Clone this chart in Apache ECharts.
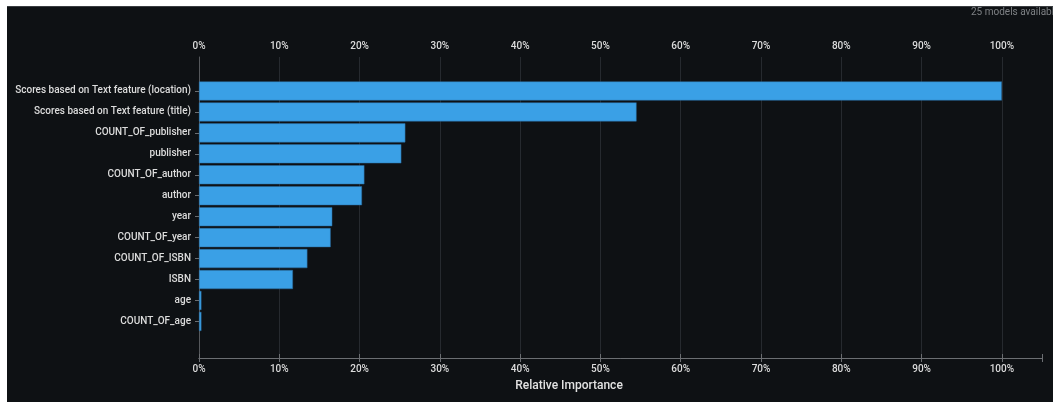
<!DOCTYPE html>
<html>
<head>
<meta charset="utf-8">
<style>
  html, body { margin: 0; padding: 0; background: #ffffff; }
  #chart { width: 1053px; height: 402px; }
</style>
<script src="https://cdn.jsdelivr.net/npm/echarts@6/dist/echarts.min.js"></script>
</head>
<body>
<div id="chart"></div>
<script>
// Feature names, top to bottom
const features = [
  'Scores based on Text feature (location)',
  'Scores based on Text feature (title)',
  'COUNT_OF_publisher',
  'publisher',
  'COUNT_OF_author',
  'author',
  'year',
  'COUNT_OF_year',
  'COUNT_OF_ISBN',
  'ISBN',
  'age',
  'COUNT_OF_age'
];
// Relative importance, percent
const importance = [100, 54.5, 25.7, 25.2, 20.6, 20.3, 16.6, 16.4, 13.5, 11.7, 0.3, 0.3];
// Percent tick labels on the importance axis
const tickValues = [0, 10, 20, 30, 40, 50, 60, 70, 80, 90, 100];
const axisTitle = 'Relative Importance';
const modelsNote = '25 models available';

const chart = echarts.init(document.getElementById('chart'), null, { renderer: 'canvas' });

const labelColor = '#dcdcdc';
const axisLineColor = '#6b6e72';
const gridColor = '#262a2f';
const AX_MAX = 105;

const pctLabel = v => (tickValues.indexOf(v) >= 0 ? v + '%' : '');

const pctAxisLabel = {
  color: labelColor, fontSize: 10, fontWeight: 500, fontFamily: 'Roboto', margin: 6, formatter: pctLabel
};

chart.setOption({
  backgroundColor: '#0e1114',
  animation: false,
  grid: [
    // frame: both percent axes, gridlines, vertical axis line
    { left: 199, right: 11, top: 57, bottom: 44 },
    // bars
    { left: 199, right: 11, top: 80.5, height: 251.4 }
  ],
  xAxis: [
    {
      gridIndex: 0, type: 'value', position: 'top', min: 0, max: AX_MAX, interval: 10,
      axisLine: { show: true, lineStyle: { color: axisLineColor } },
      axisTick: { show: true, length: 4, lineStyle: { color: axisLineColor } },
      axisLabel: pctAxisLabel,
      splitLine: { show: true, showMaxLine: false, lineStyle: { color: gridColor } }
    },
    {
      gridIndex: 0, type: 'value', position: 'bottom', min: 0, max: AX_MAX, interval: 10,
      axisLine: { show: true, lineStyle: { color: axisLineColor } },
      axisTick: { show: true, length: 4, lineStyle: { color: axisLineColor } },
      axisLabel: pctAxisLabel,
      splitLine: { show: false }
    },
    {
      gridIndex: 1, type: 'value', min: 0, max: AX_MAX, show: false
    }
  ],
  yAxis: [
    {
      gridIndex: 0, type: 'value', min: 0, max: 1,
      axisLine: { show: true, lineStyle: { color: '#55585c' } },
      axisTick: { show: false }, axisLabel: { show: false }, splitLine: { show: false }
    },
    {
      gridIndex: 1, type: 'category', data: features, inverse: true,
      axisLine: { show: false },
      axisTick: { show: true, alignWithLabel: true, length: 4, lineStyle: { color: axisLineColor } },
      axisLabel: { color: labelColor, fontSize: 10, fontWeight: 500, fontFamily: 'Roboto', margin: 8 },
      splitLine: { show: false }
    }
  ],
  series: [
    {
      type: 'bar',
      xAxisIndex: 2, yAxisIndex: 1,
      data: importance,
      barCategoryGap: '9%',
      itemStyle: { color: '#3aa0e6', borderColor: '#2a6a9c', borderWidth: 0.5 }
    }
  ],
  graphic: [
    { type: 'rect', silent: true, shape: { x: 0, y: 0, width: 1053, height: 6 }, style: { fill: '#ffffff' } },
    { type: 'rect', silent: true, shape: { x: 0, y: 0, width: 7, height: 402 }, style: { fill: '#ffffff' } },
    { type: 'rect', silent: true, shape: { x: 7, y: 6, width: 1046, height: 1 }, style: { fill: '#3a3d41' } },
    {
      type: 'text', left: 971, top: 7,
      style: { text: modelsNote, fill: '#7d8084', font: '10px Roboto' }
    },
    {
      type: 'text', x: 569, y: 386,
      style: { text: axisTitle, fill: '#e2e2e2', font: '500 12px Roboto', textAlign: 'center', textVerticalAlign: 'middle' }
    }
  ]
});
</script>
</body>
</html>
